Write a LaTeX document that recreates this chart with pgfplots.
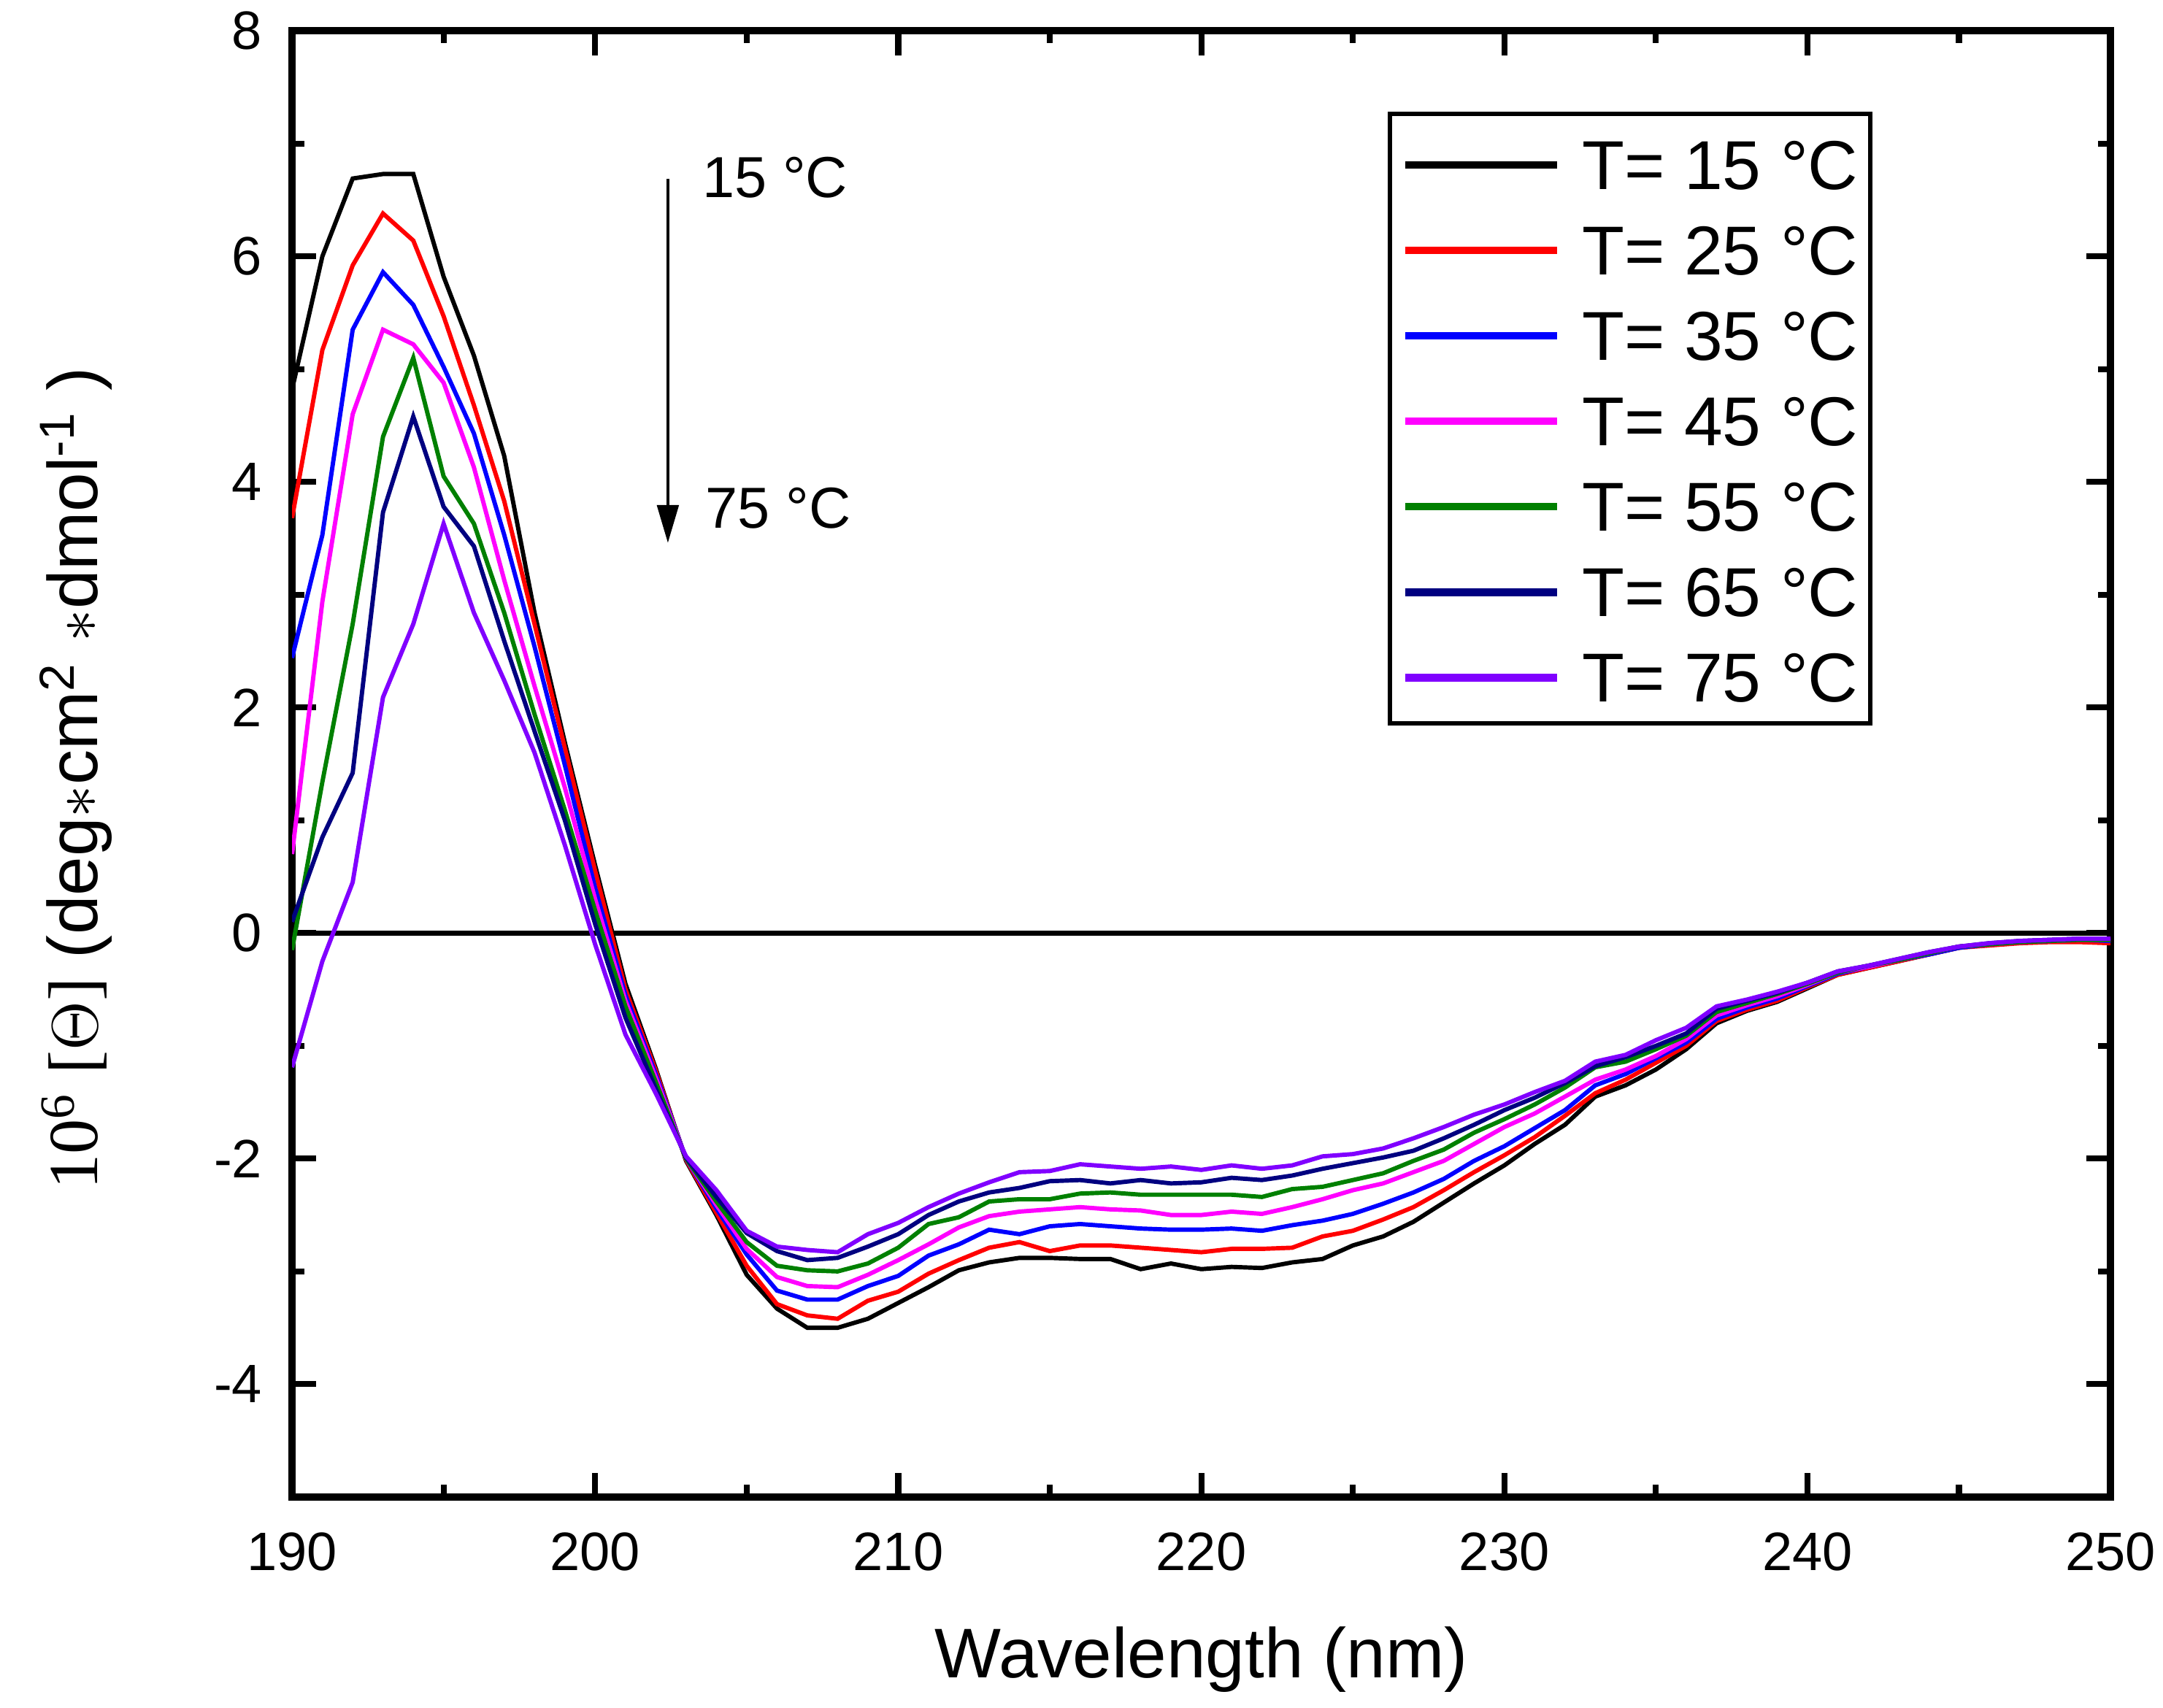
\documentclass[border=0pt]{standalone}
\usepackage{pgfplots}
\usepackage{pgfplotstable}
\pgfplotsset{compat=1.18}
\usepackage{fontspec}
\setmainfont{Liberation Sans}
\newfontfamily\seriffont{Liberation Serif}
\usetikzlibrary{arrows.meta}
\definecolor{cBlack}{RGB}{0,0,0}
\definecolor{cRed}{RGB}{255,0,0}
\definecolor{cBlue}{RGB}{0,0,255}
\definecolor{cMag}{RGB}{255,0,255}
\definecolor{cGreen}{RGB}{0,128,0}
\definecolor{cNavy}{RGB}{0,0,128}
\definecolor{cViolet}{RGB}{128,0,255}

\pgfplotstableread{
x   t15   t25   t35   t45   t55   t65   t75
190 4.82  3.68  2.44  0.70 -0.15  0.10 -1.19
191 6.00  5.17  3.53  2.94  1.34  0.85 -0.25
192 6.69  5.92  5.35  4.60  2.74  1.42  0.45
193 6.73  6.38  5.86  5.35  4.40  3.73  2.09
194 6.73  6.14  5.57  5.22  5.10  4.58  2.74
195 5.82  5.47  5.02  4.88  4.05  3.78  3.63
196 5.12  4.68  4.43  4.13  3.63  3.43  2.84
197 4.23  3.83  3.53  3.13  2.84  2.59  2.24
198 2.84  2.74  2.54  2.19  1.94  1.79  1.60
199 1.69  1.64  1.49  1.29  1.09  1.00  0.78
200 0.60  0.55  0.40  0.30  0.20  0.08 -0.10
201 -0.45 -0.50 -0.55 -0.60 -0.65 -0.75 -0.90
202 -1.20 -1.22 -1.25 -1.28 -1.32 -1.38 -1.42
203 -2.02 -2.01 -2.00 -2.00 -2.00 -1.99 -1.98
204 -2.50 -2.48 -2.44 -2.41 -2.38 -2.34 -2.28
205 -3.03 -2.95 -2.85 -2.80 -2.74 -2.66 -2.64
206 -3.33 -3.29 -3.17 -3.05 -2.95 -2.82 -2.78
207 -3.50 -3.39 -3.25 -3.13 -2.99 -2.90 -2.81
208 -3.50 -3.42 -3.25 -3.14 -3.00 -2.88 -2.83
209 -3.42 -3.26 -3.13 -3.03 -2.93 -2.78 -2.67
210 -3.28 -3.18 -3.04 -2.90 -2.79 -2.67 -2.57
211 -3.14 -3.02 -2.86 -2.76 -2.58 -2.50 -2.43
212 -2.99 -2.90 -2.76 -2.61 -2.52 -2.38 -2.31
213 -2.92 -2.79 -2.63 -2.51 -2.38 -2.30 -2.21
214 -2.88 -2.74 -2.67 -2.47 -2.36 -2.26 -2.12
215 -2.88 -2.82 -2.60 -2.45 -2.36 -2.20 -2.11
216 -2.89 -2.77 -2.58 -2.43 -2.31 -2.19 -2.05
217 -2.89 -2.77 -2.60 -2.45 -2.30 -2.22 -2.07
218 -2.98 -2.79 -2.62 -2.46 -2.32 -2.19 -2.09
219 -2.93 -2.81 -2.63 -2.50 -2.32 -2.22 -2.07
220 -2.98 -2.83 -2.63 -2.50 -2.32 -2.21 -2.10
221 -2.96 -2.80 -2.62 -2.47 -2.32 -2.17 -2.06
222 -2.97 -2.80 -2.64 -2.49 -2.34 -2.19 -2.09
223 -2.92 -2.79 -2.59 -2.43 -2.27 -2.15 -2.06
224 -2.89 -2.69 -2.55 -2.36 -2.25 -2.09 -1.98
225 -2.77 -2.64 -2.49 -2.28 -2.19 -2.04 -1.96
226 -2.69 -2.54 -2.40 -2.22 -2.13 -1.99 -1.91
227 -2.56 -2.43 -2.30 -2.12 -2.02 -1.93 -1.82
228 -2.39 -2.28 -2.18 -2.02 -1.92 -1.82 -1.72
229 -2.22 -2.12 -2.02 -1.87 -1.77 -1.70 -1.61
230 -2.06 -1.97 -1.89 -1.72 -1.65 -1.57 -1.52
231 -1.87 -1.81 -1.73 -1.60 -1.52 -1.46 -1.41
232 -1.70 -1.62 -1.57 -1.45 -1.37 -1.33 -1.31
233 -1.45 -1.42 -1.35 -1.30 -1.19 -1.18 -1.14
234 -1.35 -1.30 -1.25 -1.21 -1.14 -1.10 -1.08
235 -1.21 -1.15 -1.11 -1.09 -1.03 -1.00 -0.95
236 -1.03 -1.00 -0.97 -0.94 -0.91 -0.89 -0.84
237 -0.80 -0.78 -0.76 -0.73 -0.70 -0.67 -0.65
238 -0.69 -0.68 -0.66 -0.64 -0.62 -0.60 -0.59
239 -0.61 -0.60 -0.58 -0.56 -0.54 -0.53 -0.52
240 -0.49 -0.48 -0.47 -0.46 -0.45 -0.44 -0.44
241 -0.37 -0.37 -0.36 -0.35 -0.35 -0.34 -0.34
242 -0.31 -0.31 -0.30 -0.30 -0.29 -0.29 -0.29
243 -0.25 -0.25 -0.24 -0.24 -0.24 -0.23 -0.23
244 -0.19 -0.19 -0.19 -0.18 -0.18 -0.17 -0.17
245 -0.13 -0.13 -0.13 -0.12 -0.12 -0.12 -0.12
246 -0.10 -0.11 -0.10 -0.10 -0.10 -0.09 -0.09
247 -0.08 -0.09 -0.08 -0.08 -0.08 -0.07 -0.07
248 -0.07 -0.08 -0.07 -0.07 -0.07 -0.06 -0.06
249 -0.06 -0.08 -0.06 -0.06 -0.06 -0.05 -0.05
250 -0.06 -0.09 -0.07 -0.06 -0.06 -0.05 -0.05
}\cddata

\begin{document}
\begin{tikzpicture}
\begin{axis}[
  name=ax,
  scale only axis,
  width=336.2pt, height=271.1pt,
  xmin=190, xmax=250, ymin=-5, ymax=8,
  xtick={190,200,...,250},
  ytick={-4,-2,...,8},
  minor x tick num=1, minor y tick num=1,
  tick align=inside, tick pos=both,
  xticklabel pos=lower, yticklabel pos=left,
  major tick length=4.5pt, minor tick length=2.3pt,
  tick style={black, line width=1.1pt},
  axis line style={line width=1.3pt},
  /pgf/number format/assume math mode=true,
  ticklabel style={font=\fontsize{10}{12}\selectfont},
  xticklabel style={yshift=-3pt},
  yticklabel style={xshift=-2pt},
  xlabel={Wavelength (nm)},
  xlabel style={font=\fontsize{13}{15}\selectfont, at={(axis description cs:0.5,0)}, anchor=center, yshift=-30pt},
  ylabel={{\seriffont 10\textsuperscript{6} [$\Theta$]} (deg$\ast$cm\textsuperscript{2} $\ast$dmol\textsuperscript{-1} )},
  ylabel style={font=\fontsize{13}{15}\selectfont, at={(axis description cs:-0.119,0.49)}, anchor=center, rotate=0},
  legend style={at={(0.869,0.945)}, anchor=north east, draw=black, line width=0.8pt, fill=white,
    font=\fontsize{12.8}{15}\selectfont, inner xsep=2.2pt, inner ysep=4pt,
    row sep=5.8pt, column sep=4pt,
    nodes={inner sep=0pt, text height=10pt, text depth=0pt, anchor=west}},
  legend cell align=left,
  legend image code/.code={\draw[#1, line width=1.4pt] (0pt,-0.5pt) -- (28pt,-0.5pt);},
  every axis plot/.append style={line width=0.8pt},
]
\addplot[cBlack, line width=1.0pt, forget plot] coordinates {(190,0) (250,0)};
\addplot[cBlack]  table[x=x, y=t15] {\cddata};
\addlegendentry{T= 15 °C}
\addplot[cRed]    table[x=x, y=t25] {\cddata};
\addlegendentry{T= 25 °C}
\addplot[cBlue]   table[x=x, y=t35] {\cddata};
\addlegendentry{T= 35 °C}
\addplot[cMag]    table[x=x, y=t45] {\cddata};
\addlegendentry{T= 45 °C}
\addplot[cGreen]  table[x=x, y=t55] {\cddata};
\addlegendentry{T= 55 °C}
\addplot[cNavy]   table[x=x, y=t65] {\cddata};
\addlegendentry{T= 65 °C}
\addplot[cViolet] table[x=x, y=t75] {\cddata};
\addlegendentry{T= 75 °C}
\draw[-{Triangle[length=7pt,width=4pt]}, line width=0.5pt] (axis cs:202.4,6.69) -- (axis cs:202.4,3.46);
\node[anchor=west, inner sep=0pt, font=\fontsize{10.7}{12}\selectfont] at (axis cs:203.5,6.70) {15 °C};
\node[anchor=west, inner sep=0pt, font=\fontsize{10.7}{12}\selectfont] at (axis cs:203.6,3.77) {75 °C};
\end{axis}
\pgfresetboundingbox
\path[use as bounding box] ([shift={(-54pt,-39pt)}]ax.south west) rectangle ([shift={(9.7pt,5.7pt)}]ax.north east);
\end{tikzpicture}
\end{document}
